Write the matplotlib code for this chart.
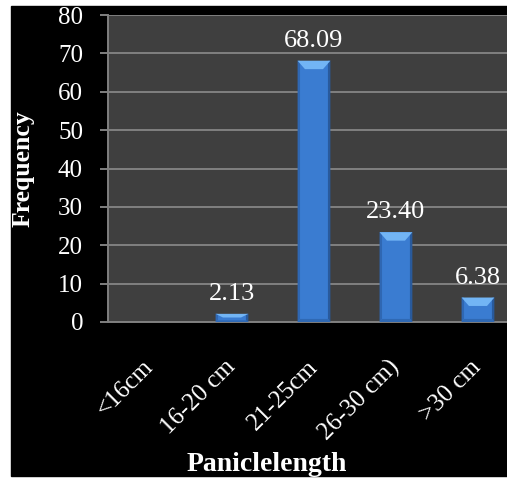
import matplotlib.pyplot as plt
from matplotlib.patches import Polygon, Rectangle

categories = ['<16cm', '16-20 cm', '21-25cm', '26-30 cm)', '>30 cm']
frequency = [0, 2.13, 68.09, 23.40, 6.38]
yticks = [0, 10, 20, 30, 40, 50, 60, 70, 80]

plt.rcParams['font.family'] = ['Liberation Serif', 'DejaVu Serif']

W, H = 507, 480
fig = plt.figure(figsize=(W / 100, H / 100), dpi=100, facecolor='white')
# black chart background inside a thin white margin
fig.patches.append(Rectangle((11 / W, 4 / H), 496 / W, 470 / H,
                             transform=fig.transFigure, color='black', zorder=-1))

ax = fig.add_axes([108 / W, 1 - 322 / H, 399 / W, 307 / H])
ax.set_facecolor('#3f3f3f')

x = list(range(len(categories)))
bars = ax.bar(x, frequency, width=0.4, color='#3a7cd1', zorder=3)

# bevelled look: light top, slightly darker sides and bottom
for b, v in zip(bars, frequency):
    if v <= 0:
        continue
    x0, x1 = b.get_x(), b.get_x() + b.get_width()
    h = b.get_height()
    bx, by = 0.09, min(2.2, h * 0.45)
    sx, sy = 0.03, min(0.8, h * 0.2)
    pieces = [
        ([(x0, 0), (x0 + sx, sy), (x0 + sx, h), (x0, h)], '#2f67b2'),
        ([(x1, 0), (x1 - sx, sy), (x1 - sx, h), (x1, h)], '#295a9c'),
        ([(x0, 0), (x1, 0), (x1 - sx, sy), (x0 + sx, sy)], '#2f69b4'),
        ([(x0, h), (x1, h), (x1 - bx, h - by), (x0 + bx, h - by)], '#72b5f5'),
    ]
    for pts, c in pieces:
        ax.add_patch(Polygon(pts, closed=True, facecolor=c, edgecolor='none', zorder=4))
    ax.annotate(f'{v:.2f}', (b.get_x() + b.get_width() / 2, h),
                xytext=(0, 10), textcoords='offset points',
                ha='center', va='baseline', color='white', fontsize=19)

ax.set_xlim(-0.512, 4.354)
ax.set_ylim(0, 80)
ax.set_yticks(yticks)
ax.grid(axis='y', color='#808080', linewidth=1.4, zorder=1)
ax.set_axisbelow(True)

ax.set_xticks(x)
ax.set_xticklabels(categories, rotation=45, ha='right', va='center',
                   rotation_mode='anchor', color='white', fontsize=18)
ax.tick_params(axis='x', length=0, pad=30)
ax.tick_params(axis='y', colors='#808080', length=6, width=1.4, pad=12,
               labelcolor='white', labelsize=18)

for side in ['top', 'right']:
    ax.spines[side].set_visible(False)
for side in ['left', 'bottom']:
    ax.spines[side].set_color('#808080')
    ax.spines[side].set_linewidth(1.4)

fig.text(23 / W, 1 - 169 / H, 'Frequency', rotation=90, ha='center', va='center',
         color='white', fontsize=18.5, fontweight='bold')
fig.text(267 / W, 1 - 471 / H, 'Paniclelength', ha='center', va='baseline',
         color='white', fontsize=20, fontweight='bold')

fig.savefig('out.png', dpi=100, facecolor='white')
